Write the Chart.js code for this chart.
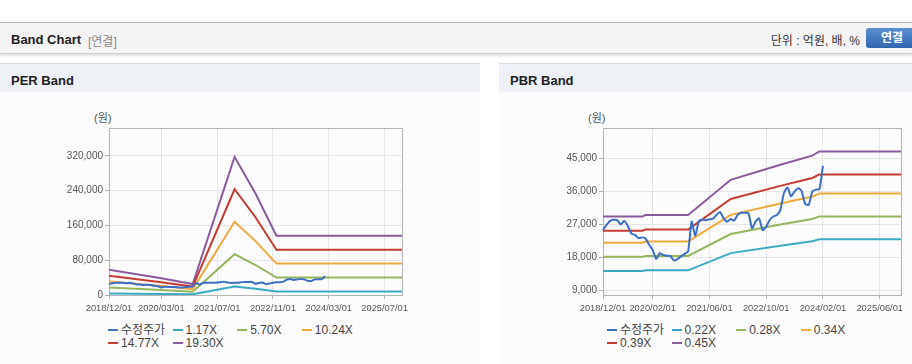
<!DOCTYPE html>
<html>
<head>
<meta charset="utf-8">
<script src="https://cdn.jsdelivr.net/npm/chart.js@4.4.1/dist/chart.umd.min.js"></script>
<style>
  body { margin: 0; width: 912px; height: 364px; overflow: hidden; background: #fff;
         font-family: "Liberation Sans", "Noto Sans CJK KR", sans-serif; position: relative; }
  .topbar { position: absolute; left: 0; top: 22px; width: 912px; height: 30px; background: #f4f4f4;
            border-top: 1px solid #b4b4b4; border-bottom: 1px solid #d0d0d0; box-shadow: 0 2px 2px rgba(0,0,0,0.12); }
  .topbar .title { position: absolute; left: 11px; top: 9px; font-size: 13px; font-weight: bold; color: #222; }
  .topbar .sub { position: absolute; left: 88px; top: 9px; font-size: 12px; color: #888; }
  .topbar .unit { position: absolute; right: 52px; top: 8px; font-size: 12px; color: #333; }
  .topbar .btn { position: absolute; left: 866px; top: 5px; width: 50px; height: 20px; border-radius: 3px;
                 background: linear-gradient(#5a8fd2, #3266b0); color: #fff; font-size: 12px; font-weight: bold;
                 line-height: 20px; text-indent: 15px; }
  .panel { position: absolute; top: 63px; height: 301px; background: #fcfcfd; }
  .panel .head { height: 28px; background: #eef1f6; border-top: 1px solid #d6dbe2; font-size: 13px;
                 font-weight: bold; color: #222; line-height: 33px; padding-left: 11px; overflow: hidden; }
  .unitlabel { position: absolute; top: 109px; font-size: 11px; color: #555; }
  .box { position: absolute; top: 110px; height: 210px; }
  .legend { position: absolute; top: 323px; font-size: 12px; color: #444; }
  .legend .item { position: absolute; white-space: nowrap; height: 14px; line-height: 14px; }
  .legend .dash { display: inline-block; width: 10px; height: 2px; vertical-align: middle; margin-right: 3px; position: relative; top: -1px; }
</style>
</head>
<body>
<div class="topbar">
  <span class="title">Band Chart</span>
  <span class="sub">[연결]</span>
  <span class="unit">단위 : 억원, 배, %</span>
  <span class="btn">연결</span>
</div>

<div class="panel" style="left:0; width:480px;"><div class="head">PER Band</div></div>
<div class="panel" style="left:499px; width:413px;"><div class="head">PBR Band</div></div>

<div class="unitlabel" style="left:94px;">(원)</div>
<div class="unitlabel" style="left:588px;">(원)</div>

<div class="box" style="left:30px; width:400px;"><canvas id="per"></canvas></div>
<div class="box" style="left:530px; width:382px;"><canvas id="pbr"></canvas></div>

<div class="legend" id="perLegend" style="left:108px;"></div>
<div class="legend" id="pbrLegend" style="left:607px;"></div>

<script>
// monthly categories 2018/12 .. 2025/12
const months = [];
for (let y = 2018, m = 12; y < 2025 || (y === 2025 && m <= 12); ) {
  months.push(y + '/' + String(m).padStart(2, '0') + '/01');
  m++;
  if (m > 12) { m = 1; y++; }
}

const perXTicks = ['2018/12/01', '2020/03/01', '2021/07/01', '2022/11/01', '2024/03/01', '2025/07/01'];
const pbrXTicks = ['2018/12/01', '2020/02/01', '2021/06/01', '2022/10/01', '2024/02/01', '2025/06/01'];
const perYTicks = [0, 80000, 160000, 240000, 320000];
const pbrYTicks = [9000, 18000, 27000, 36000, 45000];

// adjusted close (수정주가), monthly 2018/12 .. 2024/02
const price = [
  25400, 26800, 27900, 28200, 28100, 26900, 27900, 26500, 24400, 24100,
  23200, 23400, 23100, 21400, 20000, 17500, 19100, 18600, 18400, 18300,
  17100, 17500, 18200, 18900, 19600, 27700, 23800, 27800, 28200, 28100,
  28300, 28500, 29500, 30300, 28600, 27700, 28400, 28000, 29600, 30100,
  30100, 30000, 25900, 27700, 28600, 25400, 26300, 28200, 29100, 29500,
  30900, 35500, 37000, 34600, 35900, 36800, 36000, 32500, 32300, 35900,
  36400, 36500, 42900
];

// PER band vertices
const perDates = ['2018/12/01', '2020/03/01', '2020/12/01', '2021/12/01', '2022/06/01', '2022/12/01', '2025/12/01'];
const per117 = [3520, 2340, 1530, 19260, 14160, 8260, 8260];
const per570 = [17130, 11400, 7470, 93820, 68970, 40220, 40220];
const per1024 = [30770, 20480, 13420, 168550, 123900, 72260, 72260];
const per1477 = [44380, 29540, 19360, 243110, 178720, 104230, 104230];
const per1930 = [58000, 38600, 25300, 317680, 233530, 136200, 136200];

// PBR band vertices
const pbrDates = ['2018/12/01', '2019/11/01', '2019/12/01', '2020/12/01', '2021/12/01', '2023/02/01', '2023/11/01', '2024/01/01', '2025/12/01'];
const pbr022 = [14210, 14210, 14410, 14410, 19110, 21120, 22330, 22880, 22880];
const pbr028 = [18090, 18090, 18340, 18340, 24320, 26880, 28420, 29120, 29120];
const pbr034 = [21960, 21960, 22270, 22270, 29530, 32640, 34510, 35360, 35360];
const pbr039 = [25190, 25190, 25550, 25550, 33870, 37440, 39590, 40560, 40560];
const pbr045 = [29070, 29070, 29480, 29480, 39080, 43200, 45680, 46800, 46800];

const colors = ['#3b6fc6', '#3aaac4', '#93b75a', '#f0a93d', '#c53b31', '#8b5b9d'];
const perNames = ['수정주가', '1.17X', '5.70X', '10.24X', '14.77X', '19.30X'];
const pbrNames = ['수정주가', '0.22X', '0.28X', '0.34X', '0.39X', '0.45X'];

Chart.defaults.font.family = '"Liberation Sans", "Noto Sans CJK KR", sans-serif';

const framePlugin = {
  id: 'frame',
  beforeDatasetsDraw(chart) {
    const { ctx, chartArea: a } = chart;
    ctx.save();
    ctx.strokeStyle = '#b4b4b4';
    ctx.lineWidth = 1;
    ctx.strokeRect(Math.round(a.left) + 0.5, Math.round(a.top) + 0.5, Math.round(a.width), Math.round(a.height));
    ctx.restore();
  }
};

function points(dates, values) {
  return dates.map((d, i) => ({ x: d, y: values[i] }));
}

function makeChart(id, names, bands, dates, xTicks, yTicks, yMin, yMax, yWidth, padRight) {
  const datasets = [{ label: names[0], data: price, borderColor: colors[0], tension: 0.2 }];
  bands.forEach((b, i) => {
    datasets.push({ label: names[i + 1], data: points(dates, b), borderColor: colors[i + 1] });
  });
  datasets.forEach(d => { d.borderWidth = 2; d.pointRadius = 0; d.fill = false; });

  return new Chart(document.getElementById(id), {
    type: 'line',
    data: { labels: months, datasets: datasets },
    options: {
      responsive: true,
      maintainAspectRatio: false,
      animation: false,
      layout: { padding: { top: 18, right: padRight, bottom: 0, left: 0 } },
      plugins: { legend: { display: false }, tooltip: { enabled: false } },
      scales: {
        x: {
          ticks: { autoSkip: false, maxRotation: 0, color: '#555', font: { size: 9.3 }, padding: 4 },
          grid: { color: '#e6e6e6', tickColor: '#b4b4b4', tickLength: 4 },
          border: { color: '#b4b4b4' },
          afterBuildTicks: s => { s.ticks = xTicks.map(l => ({ value: months.indexOf(l) })); },
          afterFit: s => { s.height = 25; }
        },
        y: {
          min: yMin,
          max: yMax,
          ticks: { color: '#555', font: { size: 10 }, padding: 2,
                   callback: v => v.toLocaleString('en-US') },
          grid: { color: '#e6e6e6', tickColor: '#b4b4b4', tickLength: 4 },
          border: { color: '#b4b4b4' },
          afterBuildTicks: s => { s.ticks = yTicks.map(v => ({ value: v })); },
          afterFit: s => { s.width = yWidth; }
        }
      }
    },
    plugins: [framePlugin]
  });
}

makeChart('per', perNames, [per117, per570, per1024, per1477, per1930], perDates,
  perXTicks, perYTicks, 0, 384000, 79, 28);
makeChart('pbr', pbrNames, [pbr022, pbr028, pbr034, pbr039, pbr045], pbrDates,
  pbrXTicks, pbrYTicks, 7700, 53200, 73, 11);

function buildLegend(id, names) {
  const el = document.getElementById(id);
  names.forEach((n, i) => {
    const item = document.createElement('div');
    item.className = 'item';
    item.style.left = (i % 4) * 64.6 + 'px';
    item.style.top = Math.floor(i / 4) * 13 + 'px';
    item.innerHTML = '<span class="dash" style="background:' + colors[i] + '"></span>' + n;
    el.appendChild(item);
  });
}
buildLegend('perLegend', perNames);
buildLegend('pbrLegend', pbrNames);
</script>
</body>
</html>
